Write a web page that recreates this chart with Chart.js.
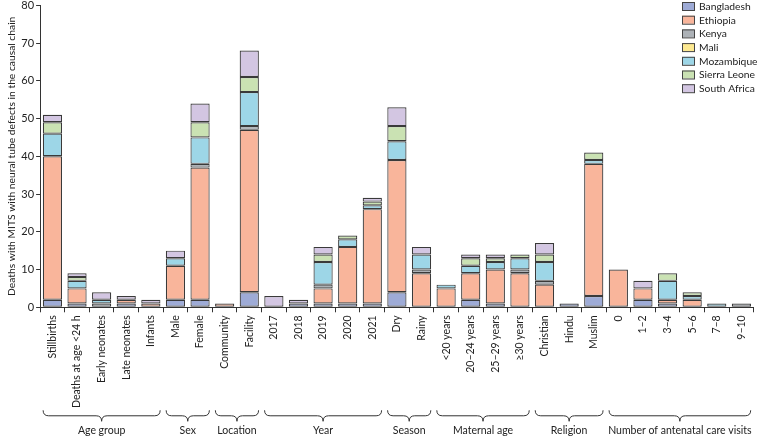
<!DOCTYPE html>
<html>
<head>
<meta charset="utf-8">
<script src="https://cdn.jsdelivr.net/npm/chart.js@4.4.1/dist/chart.umd.min.js"></script>
<style>
html, body { margin: 0; padding: 0; background: #fff; }
#wrap { width: 757px; height: 436px; position: relative; }
</style>
</head>
<body>
<div id="wrap"><canvas id="ntdChart"></canvas></div>
<script>
// categories along the x axis
const categories = ['Stillbirths', 'Deaths at age <24 h', 'Early neonates', 'Late neonates', 'Infants',
	'Male', 'Female', 'Community', 'Facility', '2017', '2018', '2019', '2020', '2021', 'Dry', 'Rainy',
	'<20 years', '20–24 years', '25–29 years', '≥30 years', 'Christian', 'Hindu', 'Muslim',
	'0', '1–2', '3–4', '5–6', '7–8', '9–10'];

// group label, first category index, last category index
const groups = [
	['Age group', 0, 4],
	['Sex', 5, 6],
	['Location', 7, 8],
	['Year', 9, 13],
	['Season', 14, 15],
	['Maternal age', 16, 19],
	['Religion', 20, 22],
	['Number of antenatal care visits', 23, 28],
];

// deaths per country, one value per category
const bangladesh = [2, 1, 0, 1, 0, 2, 2, 0, 4, 0, 1, 1, 1, 1, 4, 0, 0, 2, 1, 0, 0, 1, 3, 0, 2, 1, 0, 0, 0];
const ethiopia = [38, 4, 0, 1, 1, 9, 35, 1, 43, 0, 0, 4, 15, 25, 35, 9, 5, 7, 9, 9, 6, 0, 35, 10, 3, 1, 2, 0, 0];
const kenya = [0, 0, 1, 0, 0, 0, 1, 0, 1, 0, 0, 1, 0, 0, 0, 1, 0, 0, 0, 1, 1, 0, 0, 0, 0, 0, 0, 0, 1];
const mali = [0, 0, 0, 0, 0, 0, 0, 0, 0, 0, 0, 0, 0, 0, 0, 0, 0, 0, 0, 0, 0, 0, 0, 0, 0, 0, 0, 0, 0];
const mozambique = [6, 2, 1, 0, 0, 2, 7, 0, 9, 0, 0, 6, 2, 1, 5, 4, 1, 2, 2, 3, 5, 0, 1, 0, 0, 5, 1, 1, 0];
const sierraLeone = [3, 1, 0, 0, 0, 0, 4, 0, 4, 0, 0, 2, 1, 1, 4, 0, 0, 2, 1, 1, 2, 0, 2, 0, 0, 2, 1, 0, 0];
const southAfrica = [2, 1, 2, 1, 1, 2, 5, 0, 7, 3, 1, 2, 0, 1, 5, 2, 0, 1, 1, 0, 3, 0, 0, 0, 2, 0, 0, 0, 0];

const yTicks = [0, 10, 20, 30, 40, 50, 60, 70, 80];

const series = [
	{ name: 'Bangladesh', values: bangladesh, color: '#9eabd6' },
	{ name: 'Ethiopia', values: ethiopia, color: '#f9b59b' },
	{ name: 'Kenya', values: kenya, color: '#adb2b7' },
	{ name: 'Mali', values: mali, color: '#fde991' },
	{ name: 'Mozambique', values: mozambique, color: '#9dd6e7' },
	{ name: 'Sierra Leone', values: sierraLeone, color: '#cae2b3' },
	{ name: 'South Africa', values: southAfrica, color: '#d3c6e2' },
];

Chart.defaults.font.family = 'Lato, "Open Sans", sans-serif';
Chart.defaults.font.size = 11;
Chart.defaults.color = '#222';

// braces, group names and the legend box
const extrasPlugin = {
	id: 'extras',
	afterDraw(chart) {
		const ctx = chart.ctx;
		const x = chart.scales.x;
		const half = (x.getPixelForValue(1) - x.getPixelForValue(0)) / 2;
		const top = chart.chartArea.bottom + 103;
		const h = 11;
		ctx.save();
		ctx.strokeStyle = '#333';
		ctx.lineWidth = 1;
		ctx.fillStyle = '#222';
		ctx.font = '10.5px ' + Chart.defaults.font.family;
		ctx.textAlign = 'center';
		ctx.textBaseline = 'middle';
		groups.forEach(([label, a, b]) => {
			const x0 = x.getPixelForValue(a) - half + 3;
			const x1 = x.getPixelForValue(b) + half - 3;
			const mid = (x0 + x1) / 2;
			const r = h / 2;
			ctx.beginPath();
			ctx.moveTo(x0, top);
			ctx.quadraticCurveTo(x0, top + r, x0 + r, top + r);
			ctx.lineTo(mid - r, top + r);
			ctx.quadraticCurveTo(mid, top + r, mid, top + h);
			ctx.quadraticCurveTo(mid, top + r, mid + r, top + r);
			ctx.lineTo(x1 - r, top + r);
			ctx.quadraticCurveTo(x1, top + r, x1, top);
			ctx.stroke();
			ctx.fillText(label, mid, top + h + 9);
		});

		// legend
		ctx.textAlign = 'left';
		ctx.font = '10.3px ' + Chart.defaults.font.family;
		series.forEach((s, i) => {
			const cy = 6 + i * 13.7;
			ctx.fillStyle = s.color;
			ctx.fillRect(682, cy - 4, 12, 8);
			ctx.strokeStyle = '#444';
			ctx.strokeRect(682.5, cy - 3.5, 12, 8);
			ctx.fillStyle = '#222';
			ctx.fillText(s.name, 699, cy + 0.5);
		});
		ctx.restore();
	},
};

new Chart(document.getElementById('ntdChart'), {
	type: 'bar',
	data: {
		labels: categories,
		datasets: series.map((s) => ({
			label: s.name,
			data: s.values.map((v) => (v ? v : null)),
			backgroundColor: s.color,
			borderColor: '#3a3a3a',
			borderWidth: 1.2,
			borderSkipped: false,
			barPercentage: 0.78,
			categoryPercentage: 1,
		})),
	},
	options: {
		responsive: true,
		maintainAspectRatio: false,
		animation: false,
		layout: { padding: { top: 0, right: 1, bottom: 25, left: 5 } },
		plugins: {
			legend: { display: false },
			tooltip: { enabled: false },
		},
		scales: {
			x: {
				stacked: true,
				grid: { display: true, drawOnChartArea: false, drawTicks: true, tickLength: 5, color: '#333' },
				border: { display: true, color: '#333' },
				ticks: { minRotation: 90, maxRotation: 90, autoSkip: false, padding: 3, font: { size: 10.5 } },
			},
			y: {
				stacked: true,
				min: 0,
				max: 80,
				afterBuildTicks: (axis) => {
					axis.ticks = yTicks.map((v) => ({ value: v }));
				},
				grid: { display: true, drawOnChartArea: false, drawTicks: true, tickLength: 4, color: '#333' },
				border: { display: true, color: '#333' },
				ticks: { padding: 2, font: { size: 11, lineHeight: 0.6 } },
				title: {
					display: true,
					text: 'Deaths with MITS with neural tube defects in the causal chain',
					font: { size: 10.3 },
					padding: { top: 0, bottom: 2 },
				},
			},
		},
	},
	plugins: [extrasPlugin],
});
</script>
</body>
</html>
